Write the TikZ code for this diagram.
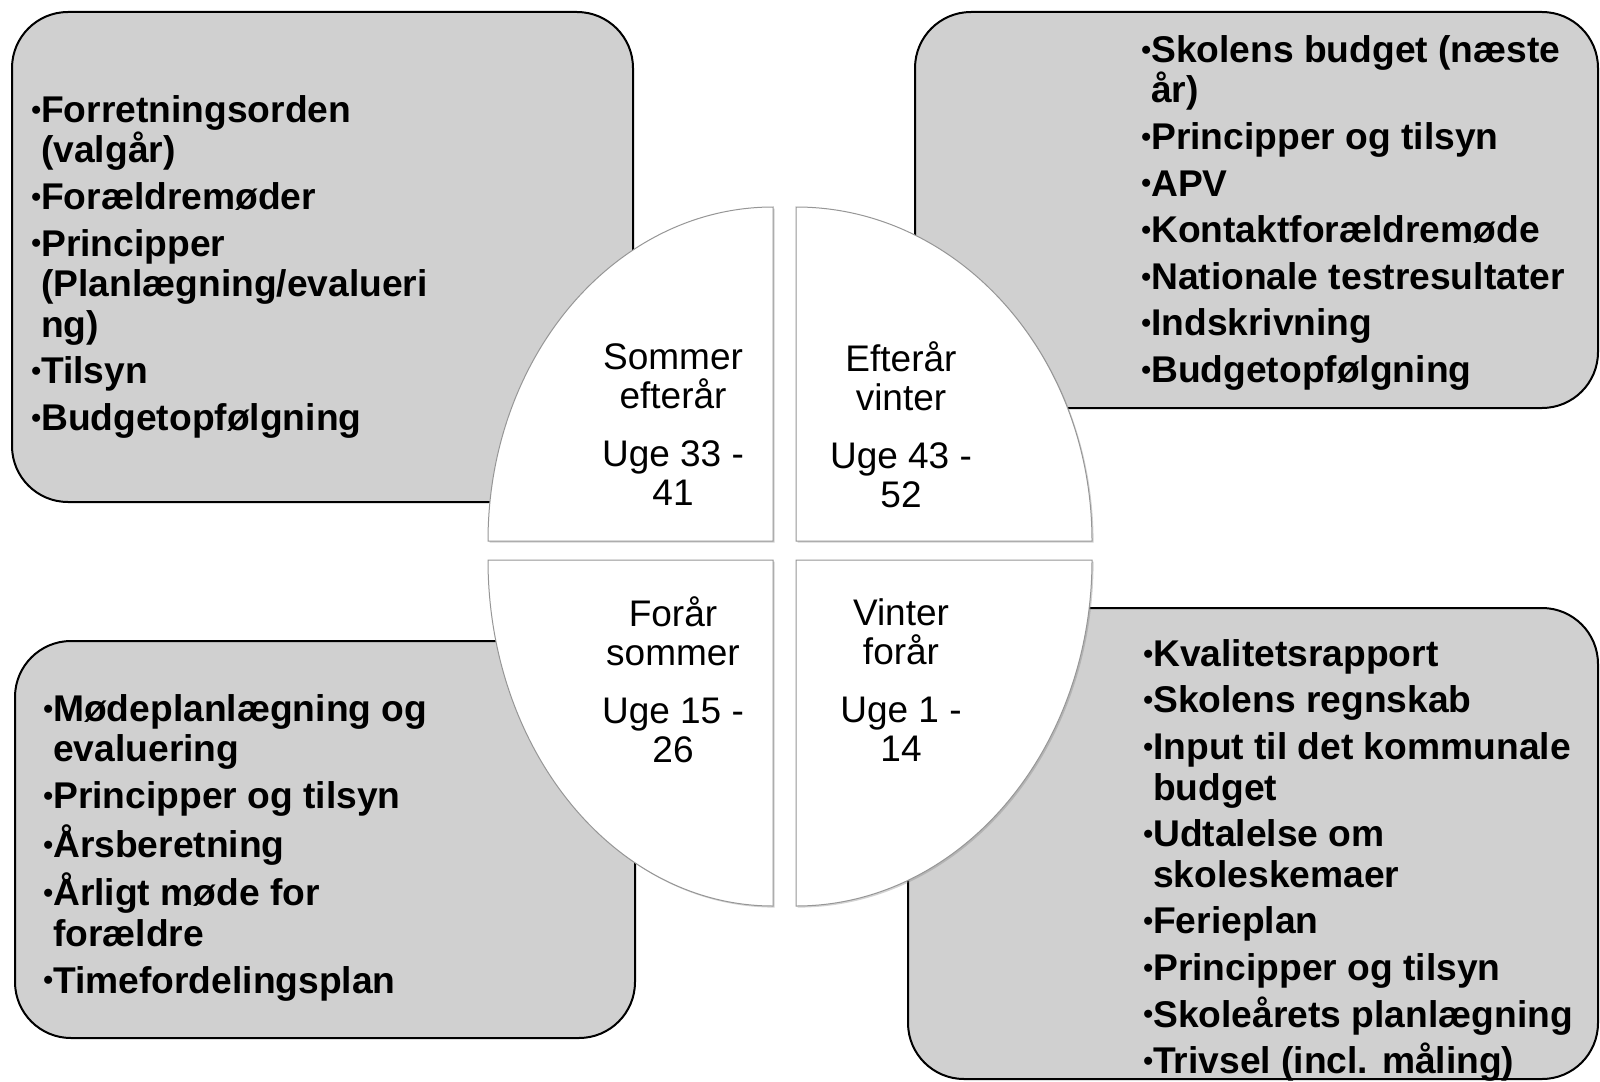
\documentclass[tikz,border=0pt]{standalone}
\usepackage{fontspec}
\setmainfont{Liberation Sans}
\usetikzlibrary{shadows}
\definecolor{panelgray}{RGB}{208,208,208}
\definecolor{quadline}{RGB}{150,150,150}
\newcommand{\bl}{\raisebox{1.6pt}{\fontsize{14}{14}\selectfont•}}
\newcommand{\ind}{\hphantom{\bl}}
\tikzset{
  panel/.style={draw=black, line width=1pt, fill=panelgray, rounded corners=28pt},
  quad/.style={draw=quadline, line width=0.5pt, fill=white,
    drop shadow={shadow xshift=0.8pt, shadow yshift=-0.8pt, opacity=0.35}},
  items/.style={anchor=north west, align=left, inner sep=0pt,
    font=\bfseries\fontsize{18.6}{20.3}\selectfont},
  season/.style={anchor=center, align=center, inner sep=0pt,
    font=\fontsize{18.5}{19.5}\selectfont}
}

\begin{document}
\begin{tikzpicture}[x=0.5pt, y=-0.5pt]
 %the year plan of the school board
  \useasboundingbox (0,0) rectangle (1600,1081);
  %draw panels
    \draw[panel] (12,12) rectangle (633,502);
    \draw[panel] (915,12) rectangle (1598,408);
    \draw[panel] (15,641) rectangle (635,1038);
    \draw[panel] (908,608) rectangle (1598,1079);
  %draw quarters of the wheel
    \draw[quad] (773,541) -- (488,541) arc[start angle=180, end angle=90, x radius=142.5pt, y radius=167pt] -- cycle;
    \draw[quad] (796,541) -- (796,207) arc[start angle=90, end angle=0, x radius=148pt, y radius=167pt] -- cycle;
    \draw[quad] (773,560) -- (488,560) arc[start angle=180, end angle=270, x radius=142.5pt, y radius=173pt] -- cycle;
    \draw[quad] (796,560) -- (1092,560) arc[start angle=0, end angle=-90, x radius=148pt, y radius=173pt] -- cycle;
  %seasons
    \node[season] (sommer) at (673,425) {Sommer\\efterår\\[9.5pt]Uge 33 -\\41};
    \node[season] (efteraar) at (901,425) {Efterår\\vinter\\[9.5pt]Uge 43 -\\52};
    \node[season] (foraar) at (673,680) {Forår\\sommer\\[9.5pt]Uge 15 -\\26};
    \node[season] (vinter) at (901,680) {Vinter\\forår\\[9.5pt]Uge 1 -\\14};
  %tasks
    \node[items] (tasksa) at (31,95) {\bl Forretningsorden\\\ind(valgår)\\[3pt]
      \bl Forældremøder\\[3pt]
      \bl Principper\\\ind(Planlægning/evalueri\\\ind ng)\\[3pt]
      \bl Tilsyn\\[3pt]
      \bl Budgetopfølgning};
    \node[items] (tasksb) at (1141,35) {\bl Skolens budget (næste\\\ind år)\\[3pt]
      \bl Principper og tilsyn\\[3pt]
      \bl APV\\[3pt]
      \bl Kontaktforældremøde\\[3pt]
      \bl Nationale testresultater\\[3pt]
      \bl Indskrivning\\[3pt]
      \bl Budgetopfølgning};
    \node[items] (tasksc) at (43,694) {\bl Mødeplanlægning og\\\ind evaluering\\[3pt]
      \bl Principper og tilsyn\\[3pt]
      \bl Årsberetning\\[3pt]
      \bl Årligt møde for\\\ind forældre\\[3pt]
      \bl Timefordelingsplan};
    \node[items] (tasksd) at (1143,639) {\bl Kvalitetsrapport\\[3pt]
      \bl Skolens regnskab\\[3pt]
      \bl Input til det kommunale\\\ind budget\\[3pt]
      \bl Udtalelse om\\\ind skoleskemaer\\[3pt]
      \bl Ferieplan\\[3pt]
      \bl Principper og tilsyn\\[3pt]
      \bl Skoleårets planlægning\\[3pt]
      \bl Trivsel (incl. måling)};
\end{tikzpicture}
\end{document}
